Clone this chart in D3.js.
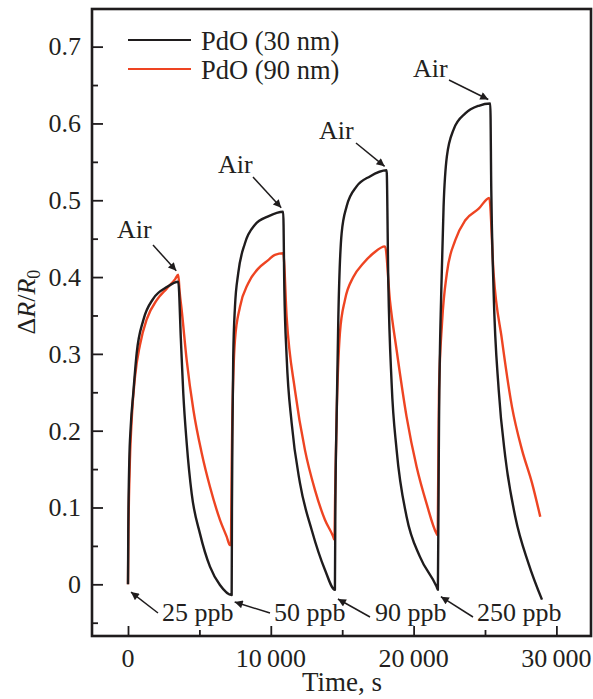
<!DOCTYPE html>
<html><head><meta charset="utf-8">
<script src="https://cdn.jsdelivr.net/npm/d3@7"></script>
<style>body{margin:0;background:#fff}svg{display:block}text{font-family:"Liberation Serif","Times New Roman",serif;fill:#231f20}</style>
</head><body>
<script>
// Data (time in s, ΔR/R0)
const time30 = [0,20,90,190,370,609,1072,1772,2710,3520,3700,3870,4110,4460,5040,5740,6440,7260,
  7280,7320,7370,7490,7720,8190,8890,9820,10870,10950,11110,11460,12040,12860,13790,14490,
  14520,14610,14730,14960,15310,16010,16940,18110,18230,18460,18810,19510,20440,21610,21700,
  21740,21780,21940,22100,22330,22800,23620,24560,25370,25440,25600,25960,26420,27120,28050,28990];
const val30 = [0,0.07,0.16,0.205,0.249,0.301,0.344,0.372,0.387,0.394,0.32,0.249,0.184,0.118,0.066,0.023,-0.001,-0.014,
  0.10,0.21,0.296,0.361,0.405,0.444,0.468,0.479,0.485,0.383,0.296,0.21,0.132,0.071,0.019,-0.007,
  0.10,0.218,0.348,0.457,0.492,0.518,0.531,0.539,0.392,0.262,0.175,0.088,0.036,-0.003,-0.007,
  0.10,0.21,0.383,0.492,0.557,0.592,0.613,0.623,0.626,0.513,0.383,0.253,0.166,0.088,0.027,-0.020];
const time90 = [0,30,110,260,490,840,1310,2010,2710,3290,3520,3620,3760,4110,4580,5160,5740,6440,6910,7140,7210,
  7260,7300,7490,7840,8420,9120,9820,10290,10870,11110,11690,12390,13090,13790,14370,14450,
  14510,14610,14840,15190,15780,16480,17180,18000,18340,18810,19510,20210,20910,21610,21680,
  21730,21780,21990,22330,22920,23620,24560,25300,25600,26190,26890,27590,28290,28870];
const val90 = [0,0.065,0.145,0.215,0.27,0.312,0.345,0.37,0.385,0.397,0.403,0.38,0.357,0.292,0.227,0.171,0.127,0.084,0.062,0.051,0.051,
  0.15,0.21,0.318,0.361,0.392,0.411,0.422,0.429,0.431,0.348,0.253,0.175,0.123,0.084,0.062,0.058,
  0.12,0.218,0.327,0.370,0.400,0.418,0.431,0.440,0.370,0.305,0.218,0.153,0.105,0.066,0.064,
  0.15,0.253,0.340,0.405,0.448,0.474,0.489,0.503,0.405,0.318,0.231,0.175,0.132,0.088];
const seriesNames = ["PdO (30 nm)", "PdO (90 nm)"];
const xTicks = [0, 10000, 20000, 30000];
const xTickLabels = ["0", "10\u2009000", "20\u2009000", "30\u2009000"];
const yTicks = [0, 0.1, 0.2, 0.3, 0.4, 0.5, 0.6, 0.7];
const yTickLabels = ["0", "0.1", "0.2", "0.3", "0.4", "0.5", "0.6", "0.7"];
const airTimes = [3520, 10870, 18110, 25370];
const airVals = [0.403, 0.485, 0.539, 0.626];
const concLabels = ["25 ppb", "50 ppb", "90 ppb", "250 ppb"];
const concTimes = [0, 7260, 14490, 21700];
const concVals = [-0.001, -0.014, -0.010, -0.007];

const W = 593, H = 699;
const L = 92, R = 591, T = 9, B = 636;
const svg = d3.select("body").append("svg").attr("width", W).attr("height", H);
const x = d3.scaleLinear().domain([-2521, 32423]).range([L, R]);
const y = d3.scaleLinear().domain([-0.0673, 0.749]).range([B, T]);
const black = "#1f1c1d", red = "#ee4422";

svg.append("defs").append("marker").attr("id","ah").attr("viewBox","0 0 10 10")
  .attr("refX",10).attr("refY",5).attr("markerWidth",13).attr("markerHeight",8)
  .attr("markerUnits","userSpaceOnUse").attr("orient","auto")
  .append("path").attr("d","M0,0L10,5L0,10z").attr("fill",black);

const tickStyle = g=>{g.select(".domain").remove(); g.selectAll("line").attr("stroke",black).attr("stroke-width",1.8);};
svg.append("g").attr("transform",`translate(0,${B})`).call(d3.axisBottom(x).tickValues(xTicks).tickSize(-10).tickFormat("")).call(tickStyle);
svg.append("g").attr("transform",`translate(0,${B})`).call(d3.axisBottom(x).tickValues([5000,15000,25000]).tickSize(-6).tickFormat("")).call(tickStyle);
svg.selectAll(".xl").data(xTicks).enter().append("text").attr("class","xl")
  .attr("x",d=>x(d)).attr("y",667).attr("text-anchor","middle").attr("font-size",26)
  .text((d,i)=>xTickLabels[i]);
svg.append("g").attr("transform",`translate(${L},0)`).call(d3.axisLeft(y).tickValues(yTicks).tickSize(-11).tickFormat("")).call(tickStyle);
svg.append("g").attr("transform",`translate(${L},0)`).call(d3.axisLeft(y).tickValues([-0.05,0.05,0.15,0.25,0.35,0.45,0.55,0.65]).tickSize(-6).tickFormat("")).call(tickStyle);
svg.selectAll(".yl").data(yTicks).enter().append("text").attr("class","yl")
  .attr("x",81).attr("y",d=>y(d)).attr("dy","0.34em").attr("text-anchor","end").attr("font-size",26)
  .text((d,i)=>yTickLabels[i]);

svg.append("rect").attr("x",L).attr("y",T).attr("width",R-L).attr("height",B-T)
  .attr("fill","none").attr("stroke",black).attr("stroke-width",2.6);

const line = d3.line().x(d=>x(d[0])).y(d=>y(d[1])).curve(d3.curveMonotoneX);
svg.append("path").datum(time90.map((t,i)=>[t,val90[i]])).attr("d",line)
  .attr("fill","none").attr("stroke",red).attr("stroke-width",2.4).attr("stroke-linejoin","round");
svg.append("path").datum(time30.map((t,i)=>[t,val30[i]])).attr("d",line)
  .attr("fill","none").attr("stroke",black).attr("stroke-width",2.4).attr("stroke-linejoin","round");

[[black,50],[red,79]].forEach(([c,yy],i)=>{
  svg.append("line").attr("x1",128).attr("x2",191).attr("y1",yy-10).attr("y2",yy-10).attr("stroke",c).attr("stroke-width",2.2);
  svg.append("text").attr("x",201).attr("y",yy).attr("font-size",26.5).text(seriesNames[i]);
});

const airText = [[117,238],[218,173],[319,139],[413,77]];
const airTail = [[153,245],[253,177],[356,143],[449,80]];
airTimes.forEach((t,i)=>{
  svg.append("text").attr("x",airText[i][0]).attr("y",airText[i][1]).attr("font-size",26).text("Air");
  svg.append("line").attr("x1",airTail[i][0]).attr("y1",airTail[i][1])
    .attr("x2",x(t)-2).attr("y2",y(airVals[i])-4).attr("stroke",black).attr("stroke-width",1.5).attr("marker-end","url(#ah)");
});
const concText = [[162,621],[274,621],[375,621],[477,621]];
const concTail = [[158,613],[270,613],[370,617],[473,617]];
concTimes.forEach((t,i)=>{
  svg.append("text").attr("x",concText[i][0]).attr("y",concText[i][1]).attr("font-size",26).text(concLabels[i]);
  svg.append("line").attr("x1",concTail[i][0]).attr("y1",concTail[i][1])
    .attr("x2",x(t)+3).attr("y2",y(concVals[i])+7).attr("stroke",black).attr("stroke-width",1.5).attr("marker-end","url(#ah)");
});

svg.append("text").attr("x",342).attr("y",691).attr("text-anchor","middle").attr("font-size",27).text("Time, s");
const yl = svg.append("text").attr("transform","translate(35,302) rotate(-90)").attr("text-anchor","middle").attr("font-size",26);
yl.append("tspan").text("Δ");
yl.append("tspan").attr("font-style","italic").text("R");
yl.append("tspan").text("/");
yl.append("tspan").attr("font-style","italic").text("R");
yl.append("tspan").attr("font-size",18).attr("dy",5).text("0");
</script>
</body></html>
